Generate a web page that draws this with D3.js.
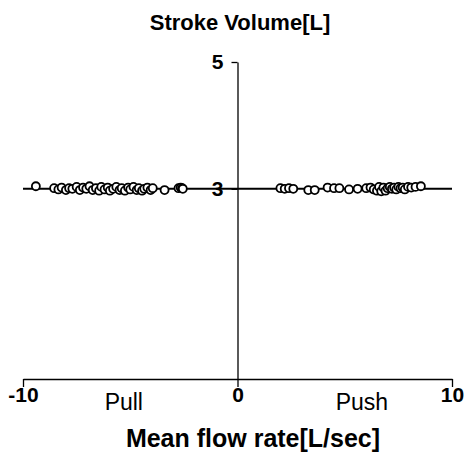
<!DOCTYPE html>
<html>
<head>
<meta charset="utf-8">
<script src="https://cdn.jsdelivr.net/npm/d3@7"></script>
<style>
  body { margin: 0; background: #fff; }
  text { font-family: "Liberation Sans", Arial, sans-serif; fill: #000; }
</style>
</head>
<body>
<svg id="chart"></svg>
<script>
// Data: mean flow rate [L/sec] vs stroke volume [L]
const pullFlow = [-9.4, -8.55, -8.35, -8.2, -8.0, -7.85, -7.7, -7.5, -7.35, -7.2, -7.05, -6.9,
  -6.75, -6.6, -6.45, -6.35, -6.2, -6.05, -5.95, -5.8, -5.65, -5.5, -5.4, -5.25, -5.1, -5.0,
  -4.85, -4.7, -4.6, -4.45, -4.35, -4.2, -4.05, -3.95, -3.4, -2.75, -2.65, -2.58, -2.55];
const pullSV = [3.04, 3.01, 2.99, 3.02, 2.98, 3.01, 3.0, 3.03, 2.98, 3.02, 3.0, 3.04,
  2.98, 3.01, 2.97, 3.03, 2.99, 3.02, 2.97, 3.0, 3.03, 2.98, 3.01, 2.97, 3.02, 2.99,
  3.03, 2.98, 3.01, 2.97, 3.0, 3.02, 2.98, 3.01, 2.98, 3.01, 3.02, 3.01, 3.0];
const pushFlow = [2.0, 2.2, 2.4, 2.6, 3.3, 3.6, 4.2, 4.5, 4.75, 5.2, 5.6, 6.0, 6.2, 6.35,
  6.5, 6.6, 6.7, 6.8, 6.9, 7.0, 7.1, 7.2, 7.3, 7.4, 7.5, 7.6, 7.7, 7.8, 7.95, 8.1, 8.3, 8.55];
const pushSV = [3.01, 3.0, 3.01, 3.0, 2.98, 2.98, 3.02, 3.01, 3.01, 2.99, 3.0, 3.01, 3.02, 2.99,
  2.97, 3.03, 2.96, 3.02, 2.97, 3.01, 3.03, 3.0, 3.02, 2.99, 3.03, 3.01, 3.02, 2.99, 3.03, 3.02, 3.03, 3.04];

const xTicks = [-10, 0, 10];
const yTicks = [3, 5];
const refSV = 3;

const W = 466, H = 465;
const svg = d3.select("#chart").attr("width", W).attr("height", H);

// Scales
const x = d3.scaleLinear().domain([-10, 10]).range([23, 452]);
const y = d3.scaleLinear().domain([0, 5]).range([379, 62]);

// plain hyphen, like the original
const fmt = d => String(d);

// Title
svg.append("text")
  .attr("x", 240).attr("y", 30)
  .attr("text-anchor", "middle")
  .style("font-size", "22px").style("font-weight", "bold")
  .text("Stroke Volume[L]");

// X axis
const gx = svg.append("g")
  .attr("transform", `translate(0,${y(0)})`)
  .call(d3.axisBottom(x).tickValues(xTicks).tickSize(8).tickSizeOuter(0).tickPadding(0).tickFormat(fmt));
gx.selectAll("path, line").attr("stroke", "#000").attr("stroke-width", 1.3);
gx.selectAll("text")
  .style("font-size", "21px").style("font-weight", "bold")
  .style("font-family", "'Liberation Sans', Arial, sans-serif")
  .attr("fill", "#000");

// Y axis
const gy = svg.append("g")
  .attr("transform", `translate(${x(0)},0)`)
  .call(d3.axisLeft(y).tickValues(yTicks).tickSize(6).tickSizeOuter(0).tickPadding(8).tickFormat(fmt));
gy.selectAll("path, line").attr("stroke", "#000").attr("stroke-width", 1.3);
gy.selectAll("text")
  .style("font-size", "21px").style("font-weight", "bold")
  .style("font-family", "'Liberation Sans', Arial, sans-serif")
  .attr("fill", "#000");

// Reference line at SV = 3
svg.append("line")
  .attr("x1", x(-10)).attr("x2", x(10))
  .attr("y1", y(refSV)).attr("y2", y(refSV))
  .attr("stroke", "#000").attr("stroke-width", 2);

// Side labels
svg.append("text").attr("x", x(-5.3)).attr("y", 410).attr("text-anchor", "middle")
  .style("font-size", "23px").text("Pull");
svg.append("text").attr("x", x(5.8)).attr("y", 410).attr("text-anchor", "middle")
  .style("font-size", "23px").text("Push");

// X axis title
svg.append("text")
  .attr("x", 253).attr("y", 447)
  .attr("text-anchor", "middle")
  .style("font-size", "25px").style("font-weight", "bold")
  .text("Mean flow rate[L/sec]");

// Points
const points = pullFlow.map((f, i) => ({ flow: f, sv: pullSV[i] }))
  .concat(pushFlow.map((f, i) => ({ flow: f, sv: pushSV[i] })));

svg.append("g").selectAll("circle")
  .data(points)
  .join("circle")
  .attr("cx", d => x(d.flow))
  .attr("cy", d => y(d.sv))
  .attr("r", 4)
  .attr("fill", "#fff")
  .attr("stroke", "#000")
  .attr("stroke-width", 1.8);
</script>
</body>
</html>
